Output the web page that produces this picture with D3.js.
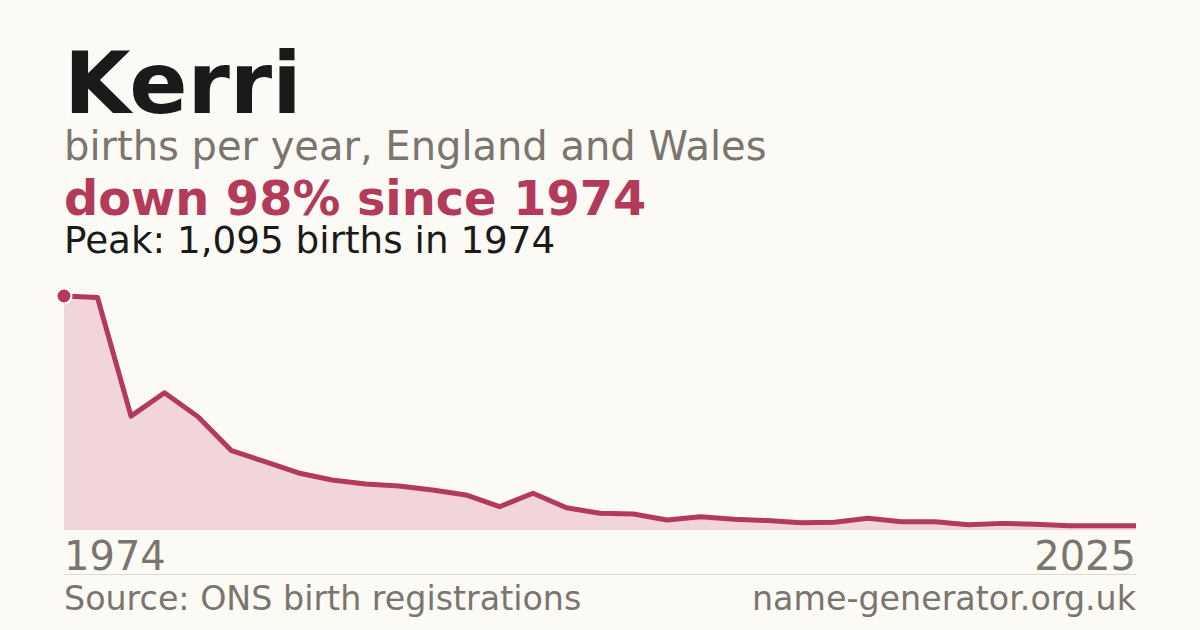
<!DOCTYPE html>
<html>
<head>
<meta charset="utf-8">
<script src="https://cdn.jsdelivr.net/npm/d3@7"></script>
<style>
  html, body { margin: 0; padding: 0; background: #fbfaf5; }
  svg { display: block; font-family: "DejaVu Sans", sans-serif; }
</style>
</head>
<body>
<div id="chart"></div>
<script>
const years = [1974, 1984, 1994, 1996, 1997, 1998, 1999, 2000, 2001, 2002, 2003,
    2004, 2005, 2006, 2007, 2008, 2009, 2010, 2011, 2012, 2013, 2014, 2015,
    2016, 2017, 2018, 2019, 2020, 2021, 2022, 2023, 2024, 2025];
const births = [1095, 1088, 533, 642, 530, 371, 320, 267, 234, 215, 206,
    187, 164, 109, 172, 104, 78, 75, 47, 62, 50, 44, 34,
    36, 55, 39, 39, 25, 31, 27, 20, 20, 20];

const name = "Kerri";
const subtitle = "births per year, England and Wales";
const change = "down 98% since 1974";
const peakText = "Peak: 1,095 births in 1974";
const source = "Source: ONS birth registrations";
const site = "name-generator.org.uk";

const width = 1200;
const height = 630;
const plot = { left: 64, right: 1136, top: 296, bottom: 530 };

const crimson = "#b33a58";
const grey = "#7a756d";

const svg = d3.select("#chart")
    .append("svg")
    .attr("width", width)
    .attr("height", height);

svg.append("rect")
    .attr("width", width)
    .attr("height", height)
    .attr("fill", "#fbfaf5");

// header
svg.append("text")
    .attr("x", 64).attr("y", 113)
    .attr("font-size", 86).attr("font-weight", "bold")
    .attr("fill", "#1a1a1a")
    .text(name);

svg.append("text")
    .attr("x", 64).attr("y", 160)
    .attr("font-size", 40)
    .attr("fill", grey)
    .text(subtitle);

svg.append("text")
    .attr("x", 64).attr("y", 215)
    .attr("font-size", 47.8).attr("font-weight", "bold")
    .attr("fill", crimson)
    .text(change);

svg.append("text")
    .attr("x", 64).attr("y", 253)
    .attr("font-size", 37.3)
    .attr("fill", "#1a1a1a")
    .text(peakText);

// chart
const x = d3.scalePoint()
    .domain(years)
    .range([plot.left, plot.right]);

const y = d3.scaleLinear()
    .domain([0, d3.max(births)])
    .range([plot.bottom, plot.top]);

const data = years.map((yr, i) => ({ year: yr, value: births[i] }));

const area = d3.area()
    .x((d) => x(d.year))
    .y0(y(0))
    .y1((d) => y(d.value));

const line = d3.line()
    .x((d) => x(d.year))
    .y((d) => y(d.value));

svg.append("path")
    .datum(data)
    .attr("d", area)
    .attr("fill", "#f1d5db");

svg.append("path")
    .datum(data)
    .attr("d", line)
    .attr("fill", "none")
    .attr("stroke", crimson)
    .attr("stroke-width", 5)
    .attr("stroke-linejoin", "round");

const peak = data.reduce((a, b) => (b.value > a.value ? b : a));

svg.append("circle")
    .attr("cx", x(peak.year))
    .attr("cy", y(peak.value))
    .attr("r", 7.5)
    .attr("fill", crimson)
    .attr("stroke", "#fff")
    .attr("stroke-width", 2);

// end labels
svg.append("text")
    .attr("x", x(years[0])).attr("y", 570)
    .attr("font-size", 40)
    .attr("fill", grey)
    .text(years[0]);

svg.append("text")
    .attr("x", x(years[years.length - 1])).attr("y", 570)
    .attr("font-size", 40)
    .attr("text-anchor", "end")
    .attr("fill", grey)
    .text(years[years.length - 1]);

svg.append("line")
    .attr("x1", plot.left).attr("x2", plot.right)
    .attr("y1", 574.5).attr("y2", 574.5)
    .attr("stroke", "#dcd9d2")
    .attr("stroke-width", 1);

// footer
svg.append("text")
    .attr("x", plot.left).attr("y", 610)
    .attr("font-size", 33.3)
    .attr("fill", grey)
    .text(source);

svg.append("text")
    .attr("x", plot.right).attr("y", 610)
    .attr("font-size", 33.3)
    .attr("text-anchor", "end")
    .attr("fill", grey)
    .text(site);
</script>
</body>
</html>
